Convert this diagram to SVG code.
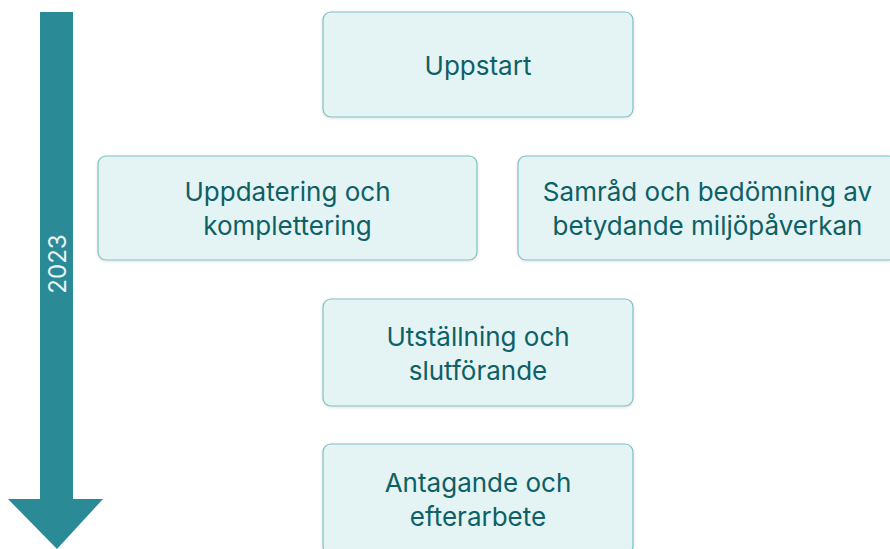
<svg xmlns="http://www.w3.org/2000/svg" width="890" height="549" viewBox="0 0 890 549">
  <defs>
    <filter id="sh" x="-5%" y="-10%" width="110%" height="125%">
      <feDropShadow dx="0" dy="1" stdDeviation="1.5" flood-color="#000" flood-opacity="0.12"/>
    </filter>
  </defs>
  <style>
    .box { fill: #e4f4f4; stroke: #7fbfc1; stroke-width: 1.2; filter: url(#sh); }
    .lbl { font-family: Inter, "Noto Sans", "Liberation Sans", sans-serif; font-size: 26px; fill: #0c6066; text-anchor: middle; }
    .yr { font-family: Inter, "Noto Sans", "Liberation Sans", sans-serif; font-size: 24px; fill: #e8f4f5; text-anchor: middle; }
  </style>
  <rect width="890" height="549" fill="#ffffff"/>
  <g id="timeline">
    <path d="M40 12 H73 V499 H103 L57 549 L8 499 H40 Z" fill="#2a8a96"/>
    <text class="yr" transform="translate(65.5 264) rotate(-90)">2023</text>
  </g>
  <g id="connectors"></g>
  <g id="uppstart">
    <rect class="box" x="323" y="12" width="310" height="105" rx="8"/>
    <text class="lbl" x="478" y="75">Uppstart</text>
  </g>
  <g id="uppdatering">
    <rect class="box" x="98" y="156" width="379" height="104" rx="8"/>
    <text class="lbl" x="287.5" y="201">Uppdatering och</text>
    <text class="lbl" x="287.5" y="235">komplettering</text>
  </g>
  <g id="samrad">
    <rect class="box" x="518" y="156" width="379" height="104" rx="8"/>
    <text class="lbl" x="707.5" y="201">Samråd och bedömning av</text>
    <text class="lbl" x="707.5" y="235">betydande miljöpåverkan</text>
  </g>
  <g id="utstallning">
    <rect class="box" x="323" y="299" width="310" height="107" rx="8"/>
    <text class="lbl" x="478" y="346">Utställning och</text>
    <text class="lbl" x="478" y="380">slutförande</text>
  </g>
  <g id="antagande">
    <rect class="box" x="323" y="444" width="310" height="110" rx="8"/>
    <text class="lbl" x="478" y="492">Antagande och</text>
    <text class="lbl" x="478" y="526">efterarbete</text>
  </g>
</svg>
